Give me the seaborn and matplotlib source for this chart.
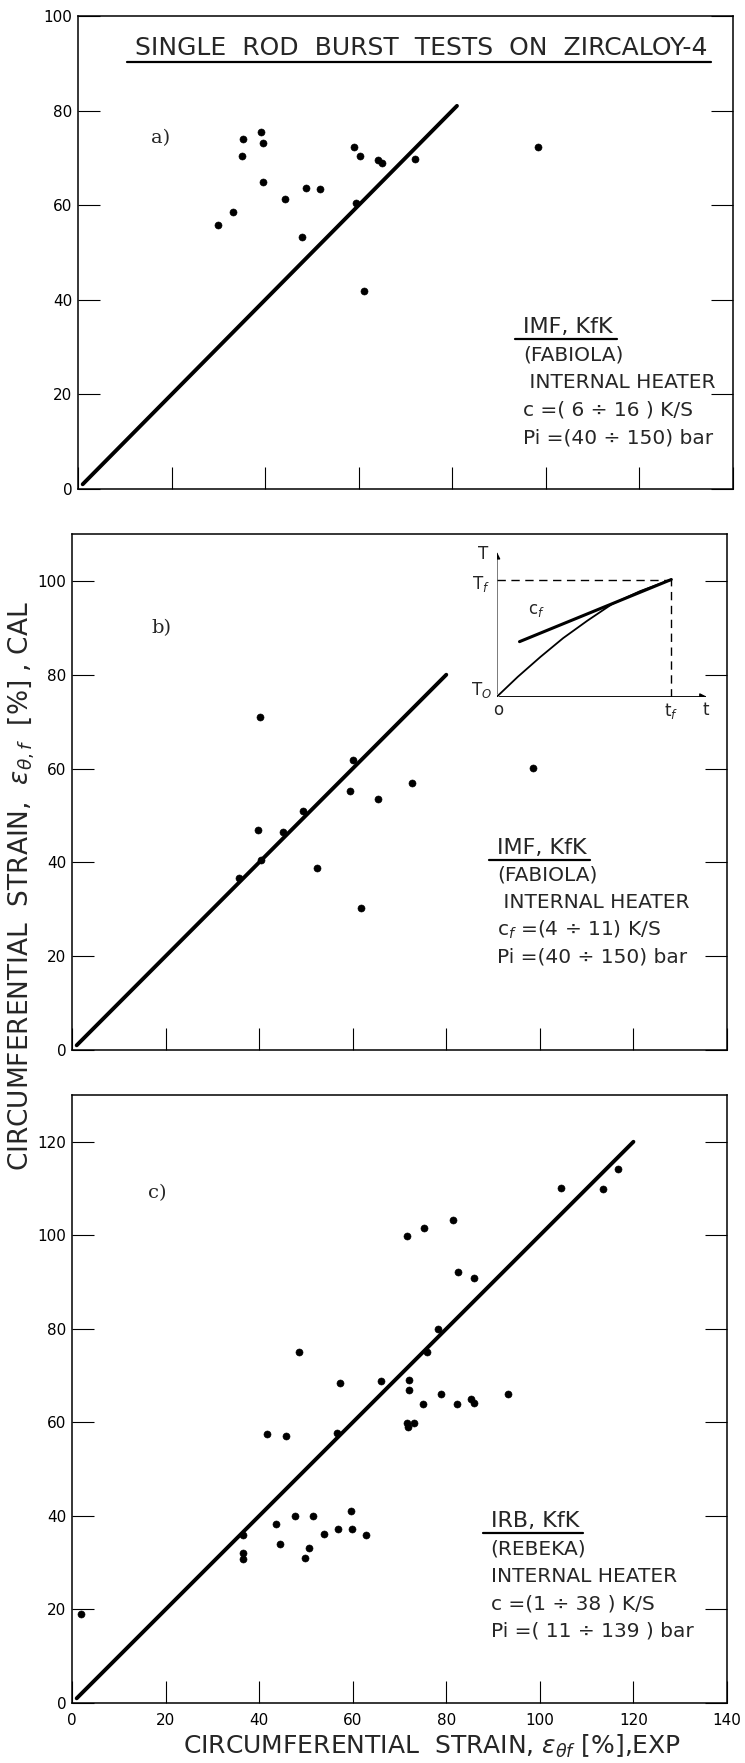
import matplotlib
matplotlib.use("Agg")
import matplotlib.pyplot as plt
import seaborn as sns
from matplotlib.lines import Line2D
from matplotlib.patches import FancyArrowPatch

# ---- data (EXP on x, CAL on y, both in %) ----
a_exp = [29.9, 33.1, 35.2, 35.1, 39.1, 39.5, 39.5, 44.3, 47.9, 48.8,
         51.7, 58.9, 60.2, 59.4, 61.1, 64.1, 65.0, 72.1, 98.3]
a_cal = [55.8, 58.6, 74.0, 70.3, 75.5, 73.2, 65.0, 61.3, 53.3, 63.6,
         63.4, 72.2, 70.3, 60.4, 41.9, 69.6, 69.0, 69.8, 72.2]

b_exp = [40.2, 60.0, 98.5, 72.7, 59.4, 65.5, 49.4, 39.8, 45.1, 40.5,
         52.3, 35.6, 61.7]
b_cal = [71.0, 61.9, 60.2, 56.9, 55.3, 53.6, 50.9, 46.9, 46.5, 40.6,
         38.8, 36.7, 30.3]

c_exp = [2.0, 36.6, 36.5, 36.6, 41.6, 45.7, 48.6, 43.5, 44.5, 47.6,
         49.9, 50.6, 51.6, 53.8, 56.8, 59.7, 59.8, 62.8, 56.7, 57.3,
         66.0, 71.5, 75.3, 81.4, 82.4, 86.0, 78.3, 75.9, 72.0, 72.0,
         78.9, 75.0, 82.3, 85.3, 86.0, 93.1, 71.7, 71.9, 73.1, 104.6,
         113.5, 116.6]
c_cal = [19.0, 35.9, 32.0, 30.8, 57.6, 57.0, 75.1, 38.2, 33.9, 39.9,
         31.0, 33.1, 39.9, 36.2, 37.1, 41.0, 37.1, 36.0, 57.7, 68.4,
         68.8, 99.9, 101.6, 103.2, 92.1, 90.9, 79.9, 75.0, 69.0, 66.9,
         66.0, 63.9, 63.9, 64.9, 64.1, 66.0, 59.9, 59.1, 59.8, 110.1,
         109.8, 114.1]

# 1:1 lines (EXP = CAL) as drawn in each panel
a_line = [1, 81]
b_line = [1, 80]
c_line = [1, 120]

x_ticks = [0, 20, 40, 60, 80, 100, 120, 140]
a_yticks = [0, 20, 40, 60, 80, 100]
b_yticks = [0, 20, 40, 60, 80, 100]
c_yticks = [0, 20, 40, 60, 80, 100, 120]

a_notes = ["(FABIOLA)", " INTERNAL HEATER", "c =( 6 \u00f7 16 ) K/S", "Pi =(40 \u00f7 150) bar"]
b_notes = ["(FABIOLA)", " INTERNAL HEATER", "c$_f$ =(4 \u00f7 11) K/S", "Pi =(40 \u00f7 150) bar"]
c_notes = ["(REBEKA)", "INTERNAL HEATER", "c =(1 \u00f7 38 ) K/S", "Pi =( 11 \u00f7 139 ) bar"]

# inset sketch of the heating transient (normalised: t_f = 1, T_f = 1)
inset_t = [0.0, 0.12, 0.25, 0.38, 0.52, 0.66, 0.82, 1.0]
inset_T = [0.0, 0.17, 0.34, 0.50, 0.65, 0.79, 0.90, 1.0]
inset_cf_t = [0.13, 1.0]
inset_cf_T = [0.47, 1.0]

sns.set_theme(style="white")
plt.rcParams["font.family"] = ["DejaVu Sans"]
plt.rcParams["mathtext.fontset"] = "dejavusans"

fig = plt.figure(figsize=(7.45, 17.63), dpi=100)
W, H = 745, 1763


def add_panel(left, top, bottom, ymax):
    ax = fig.add_axes([left / W, 1 - bottom / H, 655 / W, (bottom - top) / H])
    ax.set_xlim(0, 140)
    ax.set_ylim(0, ymax)
    for s in ax.spines.values():
        s.set_color("black")
        s.set_linewidth(1.1)
    return ax


def style(ax, yticks, show_x):
    ax.set_xticks(x_ticks)
    ax.set_yticks(yticks)
    ax.tick_params(direction="in", length=16, width=0.8, colors="black",
                   left=True, right=True, bottom=True, top=False,
                   labelsize=11, pad=4, labelbottom=show_x)
    ax.tick_params(axis="x", pad=7)
    ax.set_xlabel("")
    ax.set_ylabel("")


def draw(ax, xs, ys, line):
    sns.lineplot(x=line, y=line, ax=ax, color="black", linewidth=2.8,
                 estimator=None)
    sns.scatterplot(x=xs, y=ys, ax=ax, color="black", s=26,
                    edgecolor="black", linewidth=0.4, legend=False, zorder=3)


def notes(ax, x, y, head, lines, step):
    h = ax.text(x, y, head, fontsize=16, va="center", ha="left")
    for i, t in enumerate(lines):
        ax.text(x, y - step * (i + 1), t, fontsize=14.5, va="center", ha="left")
    return h


ax_a = add_panel(78, 16, 489, 100)
ax_b = add_panel(72, 534, 1050, 110)
ax_c = add_panel(72, 1095, 1703, 130)

draw(ax_a, a_exp, a_cal, a_line)
draw(ax_b, b_exp, b_cal, b_line)
draw(ax_c, c_exp, c_cal, c_line)

style(ax_a, a_yticks, False)
style(ax_b, b_yticks, False)
style(ax_c, c_yticks, True)

heads = []
title = ax_a.text(73.3, 93.3, "SINGLE  ROD  BURST  TESTS  ON  ZIRCALOY-4",
                  fontsize=18, ha="center", va="center")
heads.append(title)

ax_a.text(15.5, 74.1, "a)", fontsize=14, family="DejaVu Serif", va="center")
ax_b.text(16.9, 90.0, "b)", fontsize=14, family="DejaVu Serif", va="center")
ax_c.text(16.3, 109.0, "c)", fontsize=14, family="DejaVu Serif", va="center")

heads.append(notes(ax_a, 95.1, 34.3, "IMF, KfK", a_notes, 5.9))
heads.append(notes(ax_b, 90.8, 43.1, "IMF, KfK", b_notes, 5.8))
heads.append(notes(ax_c, 89.5, 38.9, "IRB, KfK", c_notes, 5.9))

# inset in panel b
ins = ax_b.inset_axes([90.8, 75.3, 45.6, 31.6], transform=ax_b.transData)
ins.set_xlim(0, 1.2225)
ins.set_ylim(0, 1.264)
ins.set_xticks([])
ins.set_yticks([])
for s in ins.spines.values():
    s.set_visible(False)
ins.patch.set_alpha(0)
sns.lineplot(x=inset_t, y=inset_T, ax=ins, color="black", linewidth=1.3,
             estimator=None, sort=False)
sns.lineplot(x=inset_cf_t, y=inset_cf_T, ax=ins, color="black", linewidth=2.2,
             estimator=None)
ins.set_xlabel("")
ins.set_ylabel("")
ins.plot([0, 1], [1, 1], color="black", lw=1.0, ls=(0, (6, 4)))
ins.plot([1, 1], [0, 1], color="black", lw=1.0, ls=(0, (6, 4)))
for end in [(1.22, 0.0), (0.0, 1.26)]:
    ins.add_patch(FancyArrowPatch((0, 0), end, arrowstyle="-|>",
                                  mutation_scale=10, color="black", lw=1.0))
ins.text(-0.05, 1.22, "T", fontsize=12, ha="right", va="center")
ins.text(-0.04, 0.96, "T$_f$", fontsize=12, ha="right", va="center")
ins.text(0.18, 0.74, "c$_f$", fontsize=12, ha="left", va="center")
ins.text(-0.03, 0.06, "T$_O$", fontsize=12, ha="right", va="center")
ins.text(0.01, -0.04, "o", fontsize=12, ha="center", va="top")
ins.text(1.0, -0.04, "t$_f$", fontsize=12, ha="center", va="top")
ins.text(1.2, -0.04, "t", fontsize=12, ha="center", va="top")

fig.text(22 / W, 1 - 886 / H,
         r"CIRCUMFERENTIAL  STRAIN,  $\varepsilon_{\theta,f}$  [%] , CAL",
         rotation=90, fontsize=19, ha="center", va="center")
fig.text(432 / W, 1 - 1746 / H,
         r"CIRCUMFERENTIAL  STRAIN, $\varepsilon_{\theta f}$ [%],EXP",
         fontsize=18, ha="center", va="center")

# underline the headings
fig.canvas.draw()
r = fig.canvas.get_renderer()
inv = fig.transFigure.inverted()
for t in heads:
    bb = t.get_window_extent(r)
    (x0, y0), (x1, _) = inv.transform([(bb.x0 - 8, bb.y0 - 2), (bb.x1 + 4, bb.y0)])
    fig.add_artist(Line2D([x0, x1], [y0, y0], transform=fig.transFigure,
                          color="black", lw=1.6))

fig.savefig("out.png", dpi=100)
